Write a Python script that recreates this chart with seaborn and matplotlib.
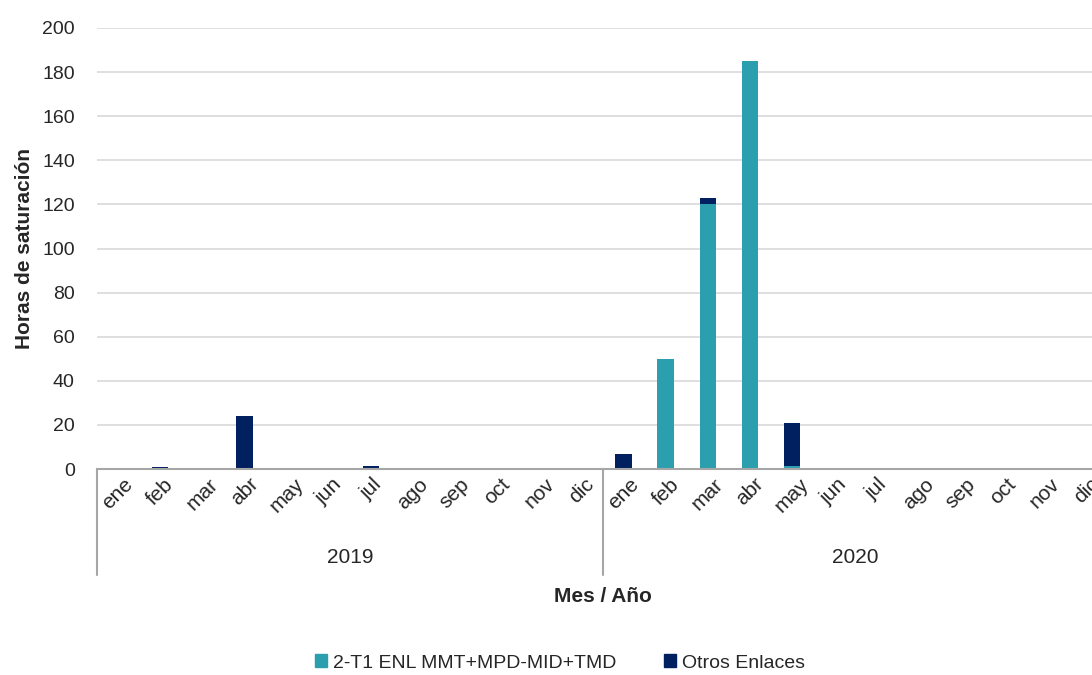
import matplotlib
matplotlib.use("Agg")
import matplotlib.pyplot as plt
import matplotlib.transforms as mtransforms
from matplotlib.patches import Patch
import seaborn as sns
import pandas as pd

sns.set_style("white")
plt.rcParams['font.family'] = ['Liberation Sans Narrow', 'Liberation Sans', 'DejaVu Sans']

# datos
anios = ["2019", "2020"]
meses = ["ene", "feb", "mar", "abr", "may", "jun", "jul", "ago", "sep", "oct", "nov", "dic"]
enl_2_t1 = [0, 0, 0, 0, 0, 0, 0, 0, 0, 0, 0, 0,
            0, 50, 120, 185, 1.5, 0, 0, 0, 0, 0, 0, 0]
otros = [0, 1, 0, 24, 0, 0, 1.5, 0, 0, 0, 0, 0,
         7, 0, 3, 0, 19.5, 0, 0, 0, 0, 0, 0, 0]
serie1 = "2-T1 ENL MMT+MPD-MID+TMD"
serie2 = "Otros Enlaces"
c1 = "#2C9FAF"
c2 = "#002060"

periodos = [a + "-" + m for a in anios for m in meses]
df = pd.DataFrame({"periodo": periodos, "enl": enl_2_t1, "otros": otros})
df["total"] = df["enl"] + df["otros"]

fig = plt.figure(figsize=(10.92, 6.75), dpi=100)
ax = fig.add_axes([97 / 1092, 1 - 469 / 675, 1011 / 1092, (469 - 28) / 675])

# apilado: total en azul oscuro y encima la serie principal
sns.barplot(data=df, x="periodo", y="total", order=periodos, color=c2,
            width=0.39, saturation=1, linewidth=0, ax=ax)
sns.barplot(data=df, x="periodo", y="enl", order=periodos, color=c1,
            width=0.39, saturation=1, linewidth=0, ax=ax)

ax.set_ylim(0, 200)
ax.set_xlim(-0.5, len(periodos) - 0.5)
ax.set_yticks(range(0, 201, 20))
ax.yaxis.grid(True, color="#d9d9d9", linewidth=1.2)
ax.set_axisbelow(True)
for s in ["top", "right", "left"]:
    ax.spines[s].set_visible(False)
ax.spines["bottom"].set_color("#a6a6a6")
ax.spines["bottom"].set_linewidth(1.5)

ax.tick_params(axis="y", length=0, pad=16, labelsize=14, labelcolor="#262626")
ax.set_xticks(range(len(periodos)))
ax.set_xticklabels(meses * 2, rotation=45, ha="center", fontsize=15, color="#262626")
ax.tick_params(axis="x", length=0, pad=4)

ax.set_ylabel("Horas de saturación", fontsize=15, fontweight="bold", labelpad=6)
ax.set_xlabel("")

# eje de categorias en dos niveles
trans = mtransforms.blended_transform_factory(ax.transData, ax.transAxes)
for x in [-0.5, 11.5, 23.5]:
    ax.plot([x, x], [0, -0.24], transform=trans, color="#a6a6a6", lw=1.5, clip_on=False)
for i, a in enumerate(anios):
    ax.text(i * 12 + 5.5, -0.2, a, transform=trans, ha="center", va="center",
            fontsize=15, color="#262626")

fig.text(603 / 1092, 1 - 597 / 675, "Mes / Año", ha="center", va="center",
         fontsize=15, fontweight="bold")

handles = [Patch(color=c1, label=serie1), Patch(color=c2, label=serie2)]
fig.legend(handles=handles, loc="center", bbox_to_anchor=(560 / 1092, 1 - 663 / 675),
           ncol=2, frameon=False, fontsize=14, handlelength=0.6, handleheight=0.6,
           handletextpad=0.3, columnspacing=2.5)

fig.savefig("out.png", dpi=100)
